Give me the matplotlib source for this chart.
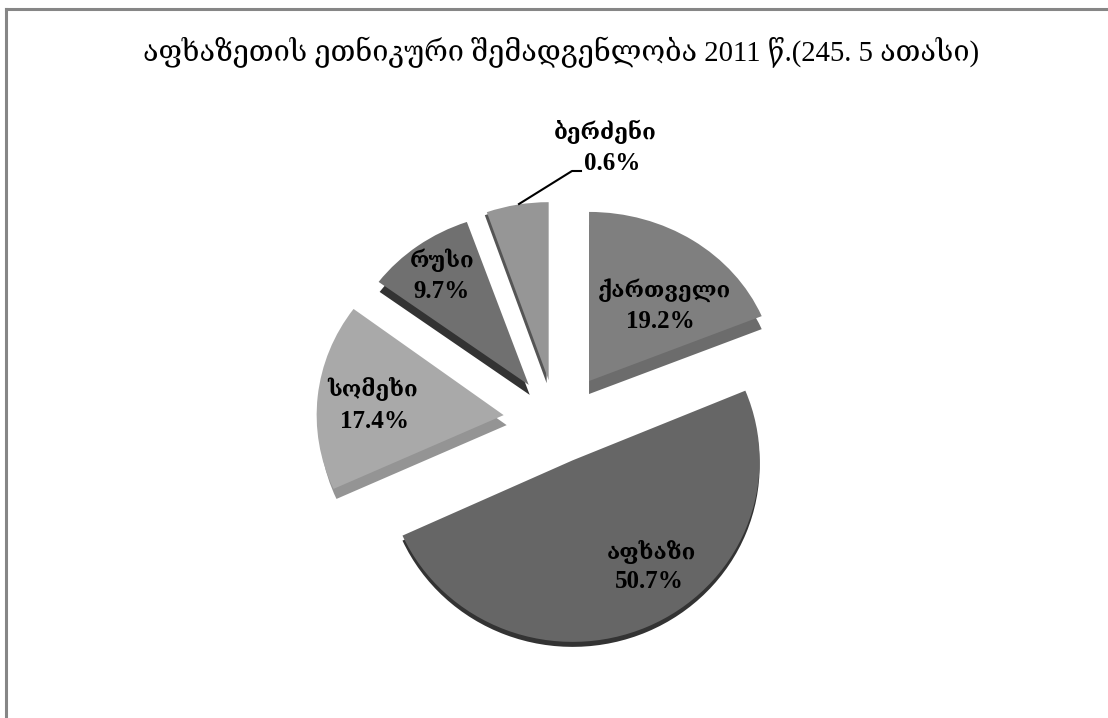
import matplotlib
matplotlib.use('Agg')
import matplotlib.pyplot as plt
from matplotlib.lines import Line2D
from matplotlib.transforms import Affine2D

W, H = 1108, 718

title = 'აფხაზეთის ეთნიკური შემადგენლობა 2011 წ.(245. 5 ათასი)'
groups = ['ქართველი', 'აფხაზი', 'სომეხი', 'რუსი', 'ბერძენი']
percent_labels = ['19.2%', '50.7%', '17.4%', '9.7%', '0.6%']
# the last slice is drawn much wider in the picture than its 0.6% label says
drawn_shares = [19.2, 50.7, 17.4, 9.7, 5.5]
explode = [0.27, 0.29, 0.26, 0.21, 0.17]

top_colors = ['#7f7f7f', '#666666', '#a9a9a9', '#707070', '#969696']
side_colors = ['#6c6c6c', '#333333', '#949494', '#333333', '#555555']
# how far each slice's side shows below its top face, in pixels
side_dx = [0, 0, 3, 1, -2]
side_dy = [13, 5, 10, 10, 3]

# the original is a perspective 3d pie, so far slices look flatter and
# every slice sits a little off the plain explode position (pixels)
squash = [0.95, 1.02, 1.0, 0.97, 1.0]
nudge_x = [11, 1, 2, 2, 4]
nudge_y = [11, 3, 10, 5, 0]

# pixel positions of the label blocks (name, percent)
name_xy = [(664, 290), (651, 552), (373, 389), (442, 260), (605, 132)]
pct_xy = [(660, 322), (649, 581), (374, 421), (442, 291), (612, 163)]

FONT = ['Liberation Serif', 'DejaVu Serif']

# pie centre and radii in pixels
cx, cy = 550, 410
rx, ry = 187, 178


def px(x, y):
    return x / W, 1 - y / H


def place(wedges, extra_x=None, extra_y=None):
    for i, wedge in enumerate(wedges):
        x0 = wedge.center[0] + nudge_x[i] / rx
        y0 = wedge.center[1] - nudge_y[i] / ry
        wedge.set_center((x0, y0))
        shift = Affine2D().translate(0, -y0).scale(1, squash[i]).translate(0, y0)
        if extra_x is not None:
            shift = shift.translate(extra_x[i] / rx, -extra_y[i] / ry)
        wedge.set_transform(shift + ax.transData)


fig = plt.figure(figsize=(W / 100, H / 100), dpi=100)
ax = fig.add_axes([0, 0, 1, 1])

side, _ = ax.pie(drawn_shares, explode=explode, colors=side_colors,
                 startangle=90, counterclock=False)
top, _ = ax.pie(drawn_shares, explode=explode, colors=top_colors,
                startangle=90, counterclock=False)

ax.set_aspect('auto')
ax.set_xlim(-cx / rx, (W - cx) / rx)
ax.set_ylim((cy - H) / ry, cy / ry)

place(side, side_dx, side_dy)
place(top)

# leader line for the smallest slice
fig.add_artist(Line2D([519 / W, 572 / W, 581 / W],
                      [1 - 204 / H, 1 - 171 / H, 1 - 171 / H],
                      color='black', lw=1.5))

# chart frame, only top and left are inside the picture
fig.add_artist(Line2D([6 / W, 1], [1 - 9 / H, 1 - 9 / H], color='#868686', lw=2.2))
fig.add_artist(Line2D([6 / W, 6 / W], [1 - 9 / H, 0], color='#868686', lw=2.2))

x, y = px(561, 52)
fig.text(x, y, title, family=FONT, fontsize=20.7, ha='center', va='center', color='black')

for name, pct, nxy, pxy in zip(groups, percent_labels, name_xy, pct_xy):
    x, y = px(*nxy)
    fig.text(x, y, name, family=FONT, fontsize=16, fontweight='bold', ha='center', va='center')
    x, y = px(*pxy)
    fig.text(x, y, pct, family=FONT, fontsize=18, fontweight='bold', ha='center', va='center')

fig.savefig('out.png', dpi=100)
